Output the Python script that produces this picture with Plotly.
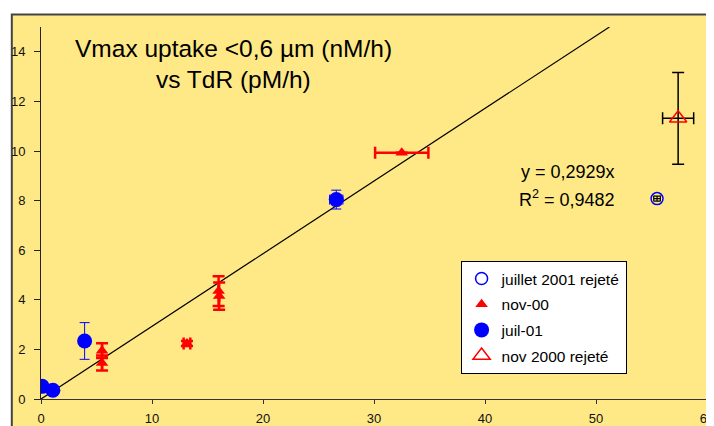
import plotly.graph_objects as go

# ---- data ----
juil01_x = [0.1, 1.07, 3.93, 26.6]
juil01_y = [0.51, 0.35, 2.34, 8.04]
juil01_yerr = [0, 0, 0.74, 0.38]
juil01_xerr = [0, 0, 0, 0.6]

nov00_x = [5.5, 5.5, 13.15, 16.0, 16.05, 32.5]
nov00_y = [1.95, 1.45, 2.24, 4.35, 4.15, 9.93]
nov00_yerr = [0.3, 0.3, 0.1, 0.6, 0.55, 0]
nov00_xerr = [0, 0, 0.3, 0, 0, 2.4]

juil_rej_x = [55.5]
juil_rej_y = [8.08]
juil_rej_xerr = [0.3]
juil_rej_yerr = [0.1]

nov_rej_x = [57.4]
nov_rej_y = [11.32]
nov_rej_xerr = [1.4]
nov_rej_yerr = [1.85]

slope = 0.2929
r2 = 0.9482
y_max = 15

bg = "#FFE986"
OFF = 8  # page body margin
W, H = 714 - OFF, 426 - OFF
ML, MR, MT, MB = 33, 0, 19, 27
pw, ph = W - ML - MR, H - MT - MB

def px2x(px):
    return (px - OFF - ML) / pw

def py2y(py):
    return (H + OFF - MB - py) / ph

fig = go.Figure()

fig.add_trace(go.Scatter(
    x=[0, y_max / slope], y=[0, y_max], mode="lines",
    line=dict(color="black", width=1.2), showlegend=False, hoverinfo="skip"))

fig.add_trace(go.Scatter(
    x=juil_rej_x, y=juil_rej_y, mode="markers", name="juillet 2001 rejeté",
    legendgroup="a",
    marker=dict(symbol="circle-open", size=12, color="blue", line=dict(width=1.5, color="blue")),
    error_x=dict(type="data", array=juil_rej_xerr, color="black", thickness=1.2, width=3),
    error_y=dict(type="data", array=juil_rej_yerr, color="black", thickness=1.2, width=3)))

fig.add_trace(go.Scatter(
    x=nov00_x, y=nov00_y, mode="markers", name="nov-00", legendgroup="b",
    marker=dict(symbol="triangle-up", size=11, color="red"),
    error_x=dict(type="data", array=nov00_xerr, color="red", thickness=2.5, width=6),
    error_y=dict(type="data", array=nov00_yerr, color="red", thickness=2.5, width=6)))

fig.add_trace(go.Scatter(
    x=juil01_x, y=juil01_y, mode="markers", name="juil-01", legendgroup="c",
    marker=dict(symbol="circle", size=15, color="blue"),
    error_x=dict(type="data", array=juil01_xerr, color="blue", thickness=1, width=5),
    error_y=dict(type="data", array=juil01_yerr, color="blue", thickness=1, width=5)))

fig.add_trace(go.Scatter(
    x=nov_rej_x, y=nov_rej_y, mode="markers", name="nov 2000 rejeté", legendgroup="d",
    marker=dict(symbol="triangle-up-open", size=15, color="red", line=dict(width=1.5, color="red")),
    error_x=dict(type="data", array=nov_rej_xerr, color="black", thickness=1.5, width=6),
    error_y=dict(type="data", array=nov_rej_yerr, color="black", thickness=1.5, width=6)))

font = "Arial, Liberation Sans, sans-serif"

fig.update_layout(
    width=W, height=H,
    margin=dict(l=ML, r=MR, t=MT, b=MB, pad=0),
    paper_bgcolor="white", plot_bgcolor=bg,
    font=dict(family=font, color="black"),
    xaxis=dict(range=[0, 60], tickvals=[0, 10, 20, 30, 40, 50, 60],
               showgrid=False, zeroline=False, showline=True, linecolor="#333",
               linewidth=1, ticks="outside", ticklen=4, tickcolor="#333",
               tickfont=dict(size=13, family=font, color="#111"),
               ticklabeloverflow="allow", ticklabelstandoff=3),
    yaxis=dict(range=[0, y_max], tickvals=[0, 2, 4, 6, 8, 10, 12, 14],
               showgrid=False, zeroline=False, showline=True, linecolor="#222",
               linewidth=1, ticks="outside", ticklen=6, tickcolor="#222",
               tickfont=dict(size=13, family=font, color="#111"),
               ticklabelstandoff=6),
    legend=dict(x=px2x(465), y=py2y(261), xanchor="left", yanchor="top",
                bgcolor="white", bordercolor="black", borderwidth=1,
                font=dict(size=15.5, family=font), tracegroupgap=2.5,
                itemwidth=30),
    showlegend=True,
)

fig.add_shape(type="rect", xref="paper", yref="paper",
              x0=px2x(11.5), x1=px2x(760), y0=py2y(460), y1=py2y(14.5),
              line=dict(color="#444", width=2), fillcolor=bg, layer="below")

fig.add_annotation(xref="paper", yref="paper", x=px2x(236), y=py2y(59),
                   text="Vmax uptake <0,6 µm (nM/h)", showarrow=False,
                   xanchor="center", yanchor="bottom", yshift=-5,
                   font=dict(size=24.5, family=font, color="black"))
fig.add_annotation(xref="paper", yref="paper", x=px2x(236), y=py2y(90),
                   text="vs TdR (pM/h)", showarrow=False,
                   xanchor="center", yanchor="bottom", yshift=-5,
                   font=dict(size=24.5, family=font, color="black"))
fig.add_annotation(xref="paper", yref="paper", x=px2x(623), y=py2y(180),
                   text=f"y = {str(slope).replace('.', ',')}x", showarrow=False,
                   xanchor="right", yanchor="bottom", yshift=-4,
                   font=dict(size=18, family=font, color="black"))
fig.add_annotation(xref="paper", yref="paper", x=px2x(623), y=py2y(208),
                   text=f"R<sup>2</sup> = {str(r2).replace('.', ',')}", showarrow=False,
                   xanchor="right", yanchor="bottom", yshift=-4,
                   font=dict(size=18, family=font, color="black"))

fig.write_html("out.html")
